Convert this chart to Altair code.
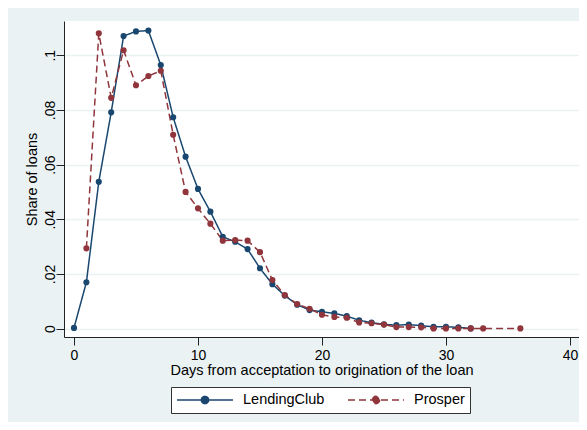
import altair as alt
import pandas as pd

# ---- data ----
lc_days = list(range(0, 33))
lc_share = [0.0003, 0.017, 0.0537, 0.0791, 0.107, 0.1087, 0.109, 0.0964, 0.0773, 0.0629,
            0.0511, 0.0428, 0.0336, 0.0318, 0.0291, 0.0221, 0.0163, 0.0121, 0.0088, 0.0068,
            0.0062, 0.0056, 0.0046, 0.0031, 0.0022, 0.0016, 0.0013, 0.0015, 0.0011, 0.0007,
            0.0007, 0.0005, 0.0001]

pr_days = list(range(1, 34)) + [36]
pr_share = [0.0294, 0.108, 0.0844, 0.1018, 0.089, 0.0924, 0.0943, 0.0709, 0.050,
            0.044, 0.0384, 0.0322, 0.0324, 0.0322, 0.028, 0.0178, 0.0123, 0.009, 0.0073,
            0.0051, 0.0043, 0.004, 0.0023, 0.002, 0.0015, 0.0006, 0.0006, 0.0005, 0.0001,
            0.0001, 0.0001, 0.0001, 0.0001, 0.0001]

series = ["LendingClub", "Prosper"]
colors = ["#1a476f", "#90353b"]
x_ticks = [0, 10, 20, 30, 40]
y_ticks = [0, 0.02, 0.04, 0.06, 0.08, 0.1]

df = pd.concat([
    pd.DataFrame({"day": lc_days, "share": lc_share, "lender": series[0]}),
    pd.DataFrame({"day": pr_days, "share": pr_share, "lender": series[1]}),
])

FONT = "Liberation Sans"
symbol_path = ("M-1,0H1M0.13,0A0.13,0.13,0,1,1,-0.13,0"
               "A0.13,0.13,0,1,1,0.13,0Z")

chart = alt.Chart(df).mark_line(
    strokeWidth=1.5,
    point=alt.OverlayMarkDef(filled=True, size=38, opacity=1),
).encode(
    x=alt.X("day:Q",
            scale=alt.Scale(domain=[-0.806, 40.73], nice=False, zero=False),
            axis=alt.Axis(values=x_ticks, title="Days from acceptation to origination of the loan",
                          tickSize=8, labelPadding=3, titlePadding=1, grid=False)),
    y=alt.Y("share:Q",
            scale=alt.Scale(domain=[-0.00303, 0.1125], nice=False, zero=False),
            axis=alt.Axis(values=y_ticks, title="Share of loans", tickSize=8,
                          labelAngle=-90, labelAlign="center", labelBaseline="alphabetic",
                          labelPadding=2, titlePadding=4,
                          labelExpr="replace(format(datum.value, '.2~f'), '0.', '.')",
                          grid=True, gridColor="#eaf2f3", gridWidth=1.5)),
    color=alt.Color("lender:N",
                    scale=alt.Scale(domain=series, range=colors),
                    legend=alt.Legend(
                        title=None, orient="none", direction="horizontal",
                        legendX=107, legendY=366,
                        symbolType=symbol_path, symbolSize=3136, symbolStrokeWidth=1.5,
                        symbolFillColor=alt.ExprRef(expr="scale('color', datum.value)"),
                        symbolOpacity=1,
                        clipHeight=16, labelOffset=9, columnPadding=22,
                        padding=5, strokeColor="#333333", fillColor="white",
                        labelFont=FONT, labelFontSize=14.5, labelColor="black")),
    strokeDash=alt.StrokeDash("lender:N",
                              scale=alt.Scale(domain=series, range=[[1, 0], [7, 4]]),
                              legend=alt.Legend(title=None)),
).properties(
    width=515, height=316,
    autosize=alt.AutoSizeParams(type="none"),
    padding={"left": 56, "top": 13, "right": 0, "bottom": 85},
    background="#eaf2f3",
).configure_view(
    fill="white", stroke=None,
).configure_axis(
    labelFont=FONT, titleFont=FONT, labelFontSize=14, titleFontSize=14.5,
    labelColor="black", titleColor="black", titleFontWeight="normal",
    domainColor="#222222", tickColor="#222222", domainWidth=1, tickWidth=1,
)

chart.save("out.html", embed_options={"renderer": "svg", "actions": False})
